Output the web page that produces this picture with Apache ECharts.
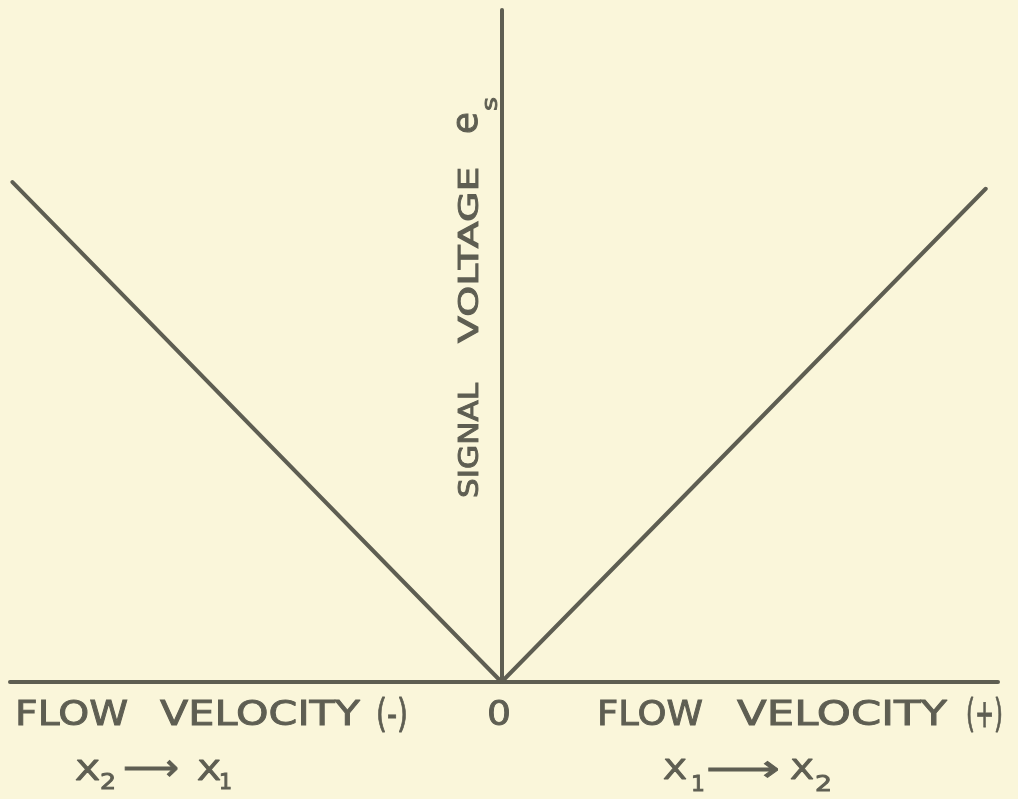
<!DOCTYPE html>
<html>
<head>
<meta charset="utf-8">
<script src="https://cdn.jsdelivr.net/npm/echarts@6/dist/echarts.min.js"></script>
<style>
html,body{margin:0;padding:0;background:#faf6da;}
#chart{width:1018px;height:799px;}
</style>
</head>
<body>
<div id="chart"></div>
<script>
// ---- data ----
const flowVelocity = [-99.5, 0, 98.5];      // x values (relative units)
const signalVoltage = [74.4, 0, 73.4];      // y values (relative units)
const leftAxisWords = ['FLOW', 'VELOCITY', '(-)'];
const rightAxisWords = ['FLOW', 'VELOCITY', '(+)'];
const originLabel = '0';
const yTitleWords = ['SIGNAL', 'VOLTAGE', 'e', 's'];
const leftDir = ['X', '2', '\u27F6', 'X', '1'];
const rightDir = ['X', '1', '\u27F6', 'X', '2'];

const INK = '#5e5e52';
const FONT = '"DejaVu Sans"';
const cv = document.createElement('canvas').getContext('2d');
function measure(t, fs){ cv.font = fs + 'px ' + FONT; return cv.measureText(t).width; }

function textStyle(t, fs){
  return { text: t, font: fs.toFixed(1) + 'px ' + FONT, fill: INK, stroke: INK, lineWidth: 0.9,
           textAlign: 'left', textVerticalAlign: 'middle' };
}
// horizontal text: fits [x0,x1], glyph height from top to bot; kind: 'cap' | 'x'
function hText(t, x0, x1, top, bot, kind){
  const h = bot - top;
  const ratio = kind === 'x' ? 0.547 : 0.729;
  const fs = h / ratio;
  const w = measure(t, fs);
  const sx = x1 == null ? 1 : (x1 - x0) / w;
  const centerOff = kind === 'x' ? -0.073 * fs : 0;
  return { type: 'text', x: x0, y: (top + bot) / 2 + 1 + centerOff, scaleX: sx, silent: true, style: textStyle(t, fs) };
}
// vertical text (reads bottom to top): spans y from yBot up to yTop; glyph occupies x from left to right
function vText(t, yBot, yTop, left, right, kind){
  const h = right - left;
  const ratio = kind === 'x' ? 0.547 : 0.729;
  const fs = h / ratio;
  const w = measure(t, fs);
  const sx = (yBot - yTop) / w;
  const centerOff = kind === 'x' ? -0.073 * fs : 0;
  return { type: 'text', x: (left + right) / 2 + centerOff, y: yBot, rotation: Math.PI / 2, scaleX: sx, silent: true, style: textStyle(t, fs) };
}

const graphics = [
  hText(leftAxisWords[0], 15, 128, 703, 728, 'cap'),
  hText(leftAxisWords[1], 160, 360, 703, 728, 'cap'),
  hText(leftAxisWords[2], 376, 408, 701, 730, 'cap'),
  hText(originLabel, 487, 511, 703, 728, 'cap'),
  hText(rightAxisWords[0], 597, 703, 703, 728, 'cap'),
  hText(rightAxisWords[1], 737, 947, 703, 728, 'cap'),
  hText(rightAxisWords[2], 966, 1003, 701, 730, 'cap'),

  hText(leftDir[0], 75, 100, 763, 782, 'cap'),
  hText(leftDir[1], 100, 116, 775, 790, 'cap'),
  hText(leftDir[2], 123, 179, 756, 783, 'cap'),
  hText(leftDir[3], 197, 221, 763, 782, 'cap'),
  hText(leftDir[4], 219, null, 775, 790, 'cap'),

  hText(rightDir[0], 663, 687, 761, 781, 'cap'),
  hText(rightDir[1], 691, null, 776, 792, 'cap'),
  hText(rightDir[2], 706, 780, 757, 784, 'cap'),
  hText(rightDir[3], 790, 814, 761, 781, 'cap'),
  hText(rightDir[4], 815, 832, 777, 792, 'cap'),

  vText(yTitleWords[0], 498, 383, 462, 481, 'cap'),
  vText(yTitleWords[1], 343, 167, 462, 481, 'cap'),
  vText(yTitleWords[2], 134, 112, 461, 480, 'x'),
  vText(yTitleWords[3], 111, 97, 487, 499, 'x')
];

const chart = echarts.init(document.getElementById('chart'), null, { renderer: 'canvas' });
const axisLineStyle = { color: INK, width: 4, cap: 'round' };
chart.setOption({
  backgroundColor: '#faf6da',
  animation: false,
  grid: { left: 10, right: 20, top: 10, bottom: 117 },
  xAxis: {
    type: 'value', min: -100, max: 101,
    axisLine: { show: true, onZero: true, lineStyle: axisLineStyle },
    axisTick: { show: false }, axisLabel: { show: false }, splitLine: { show: false }
  },
  yAxis: {
    type: 'value', min: 0, max: 100,
    axisLine: { show: true, onZero: true, lineStyle: axisLineStyle },
    axisTick: { show: false }, axisLabel: { show: false }, splitLine: { show: false }
  },
  series: [{
    type: 'line',
    data: flowVelocity.map((x, i) => [x, signalVoltage[i]]),
    symbol: 'none',
    lineStyle: { color: INK, width: 4, cap: 'round', join: 'round' },
    z: 3
  }],
  graphic: graphics
});
</script>
</body>
</html>
